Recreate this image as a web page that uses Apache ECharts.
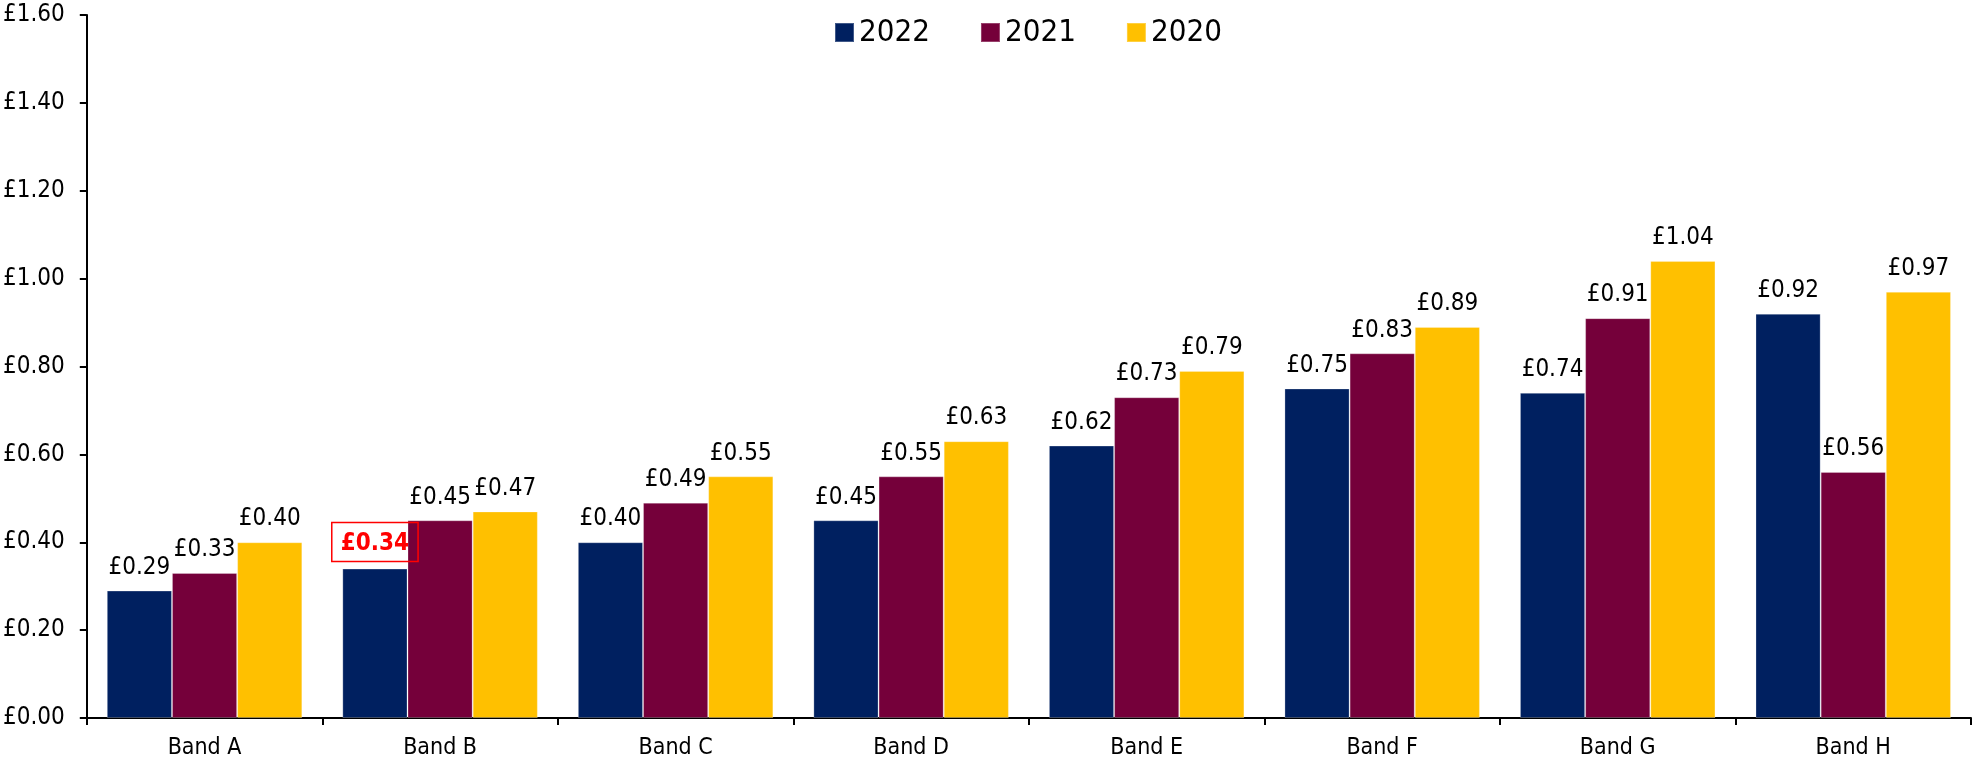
<!DOCTYPE html>
<html>
<head>
<meta charset="utf-8">
<title>Band charges 2020–2022</title>
<script src="https://cdn.jsdelivr.net/npm/echarts@6/dist/echarts.min.js"></script>
<style>
  html, body { margin: 0; padding: 0; background: #ffffff; }
  #chart { width: 1975px; height: 765px; }
</style>
</head>
<body>
<div id="chart"></div>
<script>
// Categories and values per year
const bands = ['Band A', 'Band B', 'Band C', 'Band D', 'Band E', 'Band F', 'Band G', 'Band H'];
const years = ['2022', '2021', '2020'];
const values2022 = [0.29, 0.34, 0.40, 0.45, 0.62, 0.75, 0.74, 0.92];
const values2021 = [0.33, 0.45, 0.49, 0.55, 0.73, 0.83, 0.91, 0.56];
const values2020 = [0.40, 0.47, 0.55, 0.63, 0.79, 0.89, 1.04, 0.97];
const yTicks = [0, 0.2, 0.4, 0.6, 0.8, 1.0, 1.2, 1.4, 1.6];
// Index of the 2022 value that gets the highlighted label
const highlightIndex = 1;

const FONT = '"DejaVu Sans Condensed", "DejaVu Sans", Tahoma, sans-serif';
const colors = ['#002060', '#75003A', '#FFC000'];

const money = v => '£' + Number(v).toFixed(2);

const plainLabel = {
  show: true,
  position: 'top',
  distance: 11,
  color: '#000',
  fontFamily: FONT,
  fontSize: 24,
  formatter: p => money(p.value)
};

function seriesData(values, highlight) {
  return values.map((v, i) => {
    if (i !== highlight) return v;
    return {
      value: v,
      label: {
        show: true,
        position: 'top',
        distance: 7,
        color: '#FF0000',
        fontWeight: 'bold',
        fontFamily: FONT,
        fontSize: 24,
        borderColor: '#FF0000',
        borderWidth: 1.5,
        padding: [9, 9, 6, 9],
        formatter: p => money(p.value)
      }
    };
  });
}

const seriesValues = [values2022, values2021, values2020];

const chart = echarts.init(document.getElementById('chart'), null, { renderer: 'canvas' });

chart.setOption({
  backgroundColor: '#ffffff',
  animation: false,
  color: colors,
  legend: {
    data: years,
    top: 12,
    left: 829,
    itemWidth: 19,
    itemHeight: 19,
    itemGap: 50,
    icon: 'rect',
    textStyle: { fontFamily: FONT, fontSize: 31, color: '#000' }
  },
  grid: { left: 86, right: 4, top: 15, bottom: 47, containLabel: false },
  xAxis: {
    type: 'category',
    data: bands,
    boundaryGap: true,
    axisLine: { lineStyle: { color: '#000', width: 2 } },
    axisTick: { show: true, alignWithLabel: false, length: 7, lineStyle: { color: '#000', width: 2 } },
    axisLabel: { color: '#000', fontFamily: FONT, fontSize: 23, margin: 19 }
  },
  yAxis: {
    type: 'value',
    min: yTicks[0],
    max: yTicks[yTicks.length - 1],
    interval: yTicks[1] - yTicks[0],
    splitLine: { show: false },
    axisLine: { show: true, lineStyle: { color: '#000', width: 2 } },
    axisTick: { show: true, length: 7, lineStyle: { color: '#000', width: 2 } },
    axisLabel: { color: '#000', fontFamily: FONT, fontSize: 24, margin: 22, formatter: v => money(v) }
  },
  series: years.map((y, k) => ({
    name: y,
    type: 'bar',
    barGap: '0%',
    barCategoryGap: '17%',
    itemStyle: { color: colors[k], borderColor: 'rgba(255,255,255,0.25)', borderWidth: 1 },
    label: plainLabel,
    data: seriesData(seriesValues[k], k === 0 ? highlightIndex : -1)
  }))
});
</script>
</body>
</html>
